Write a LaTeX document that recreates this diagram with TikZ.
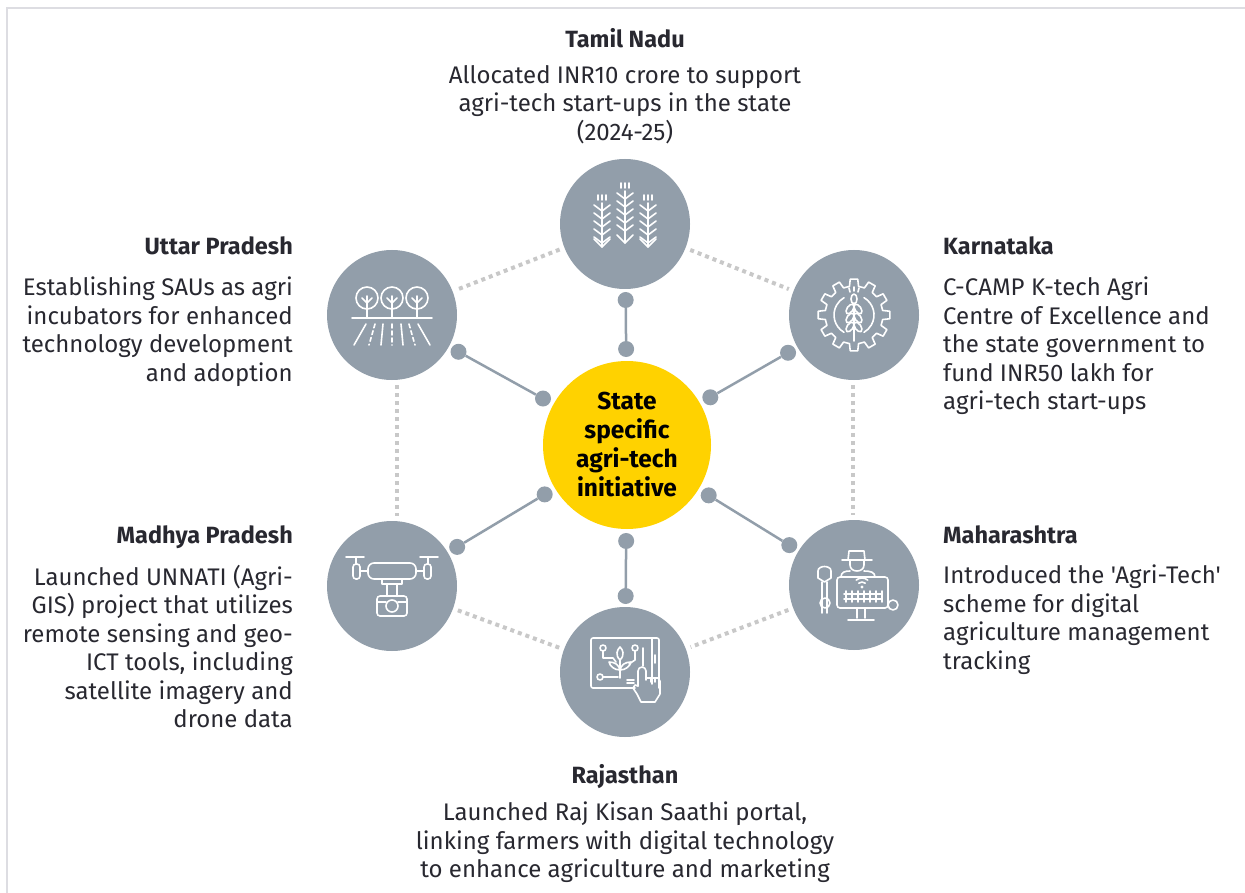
\documentclass[tikz,border=0pt]{standalone}
\usepackage{fontspec}
\newfontfamily\eyfont{Fira Sans}
\usetikzlibrary{calc}
\definecolor{stategray}{RGB}{146,158,170}
\definecolor{hubyellow}{RGB}{255,210,0}
\definecolor{ringgray}{RGB}{200,200,200}
\definecolor{framegray}{RGB}{221,221,226}
\definecolor{eytext}{RGB}{40,40,48}

\tikzset{
  statecircle/.style={circle, fill=stategray, minimum size=130pt, inner sep=0pt},
  hubcircle/.style={circle, fill=hubyellow, minimum size=168pt, inner sep=0pt, align=center,
    font={\eyfont\bfseries\fontsize{24.5}{29}\selectfont}, text=black},
  statetitle/.style={font={\eyfont\bfseries\fontsize{23.5}{28.5}\selectfont}, text=eytext, inner sep=0pt},
  statetext/.style={font={\eyfont\fontsize{24}{28.5}\selectfont}, text=eytext, inner sep=0pt},
  linkdot/.style={circle, fill=stategray, minimum size=16pt, inner sep=0pt},
  spoke/.style={stategray, line width=2.5pt},
  ring/.style={ringgray, line width=4pt, dash pattern=on 4pt off 4pt, shorten >=5pt, shorten <=5pt},
  icon/.style={white, line width=1.6pt, line cap=round, line join=round}
}

\begin{document}
\begin{tikzpicture}[x=1pt, y=1pt, yscale=-1]
    \useasboundingbox (0,0) rectangle (1245,893);
    \draw[framegray, line width=2pt] (1260,8) -- (7,8) -- (7,910);

    % hub and states
    \node[hubcircle] (hub) at (627,445) {State\\specific\\agri-tech\\initiative};
    \node[statecircle] (tn) at (625,224) {};
    \node[statecircle] (up) at (392,315) {};
    \node[statecircle] (ka) at (854,315) {};
    \node[statecircle] (mp) at (392,586) {};
    \node[statecircle] (mh) at (854,585) {};
    \node[statecircle] (rj) at (625,672) {};

    % dotted ring
    \draw[ring] (tn) -- (up);
    \draw[ring] (tn) -- (ka);
    \draw[ring] ([xshift=5pt]up.south) -- ([xshift=5pt]mp.north);
    \draw[ring] ([xshift=-1pt]ka.south) -- ([xshift=-1pt]mh.north);
    \draw[ring] (mp) -- (rj);
    \draw[ring] (mh) -- (rj);

    % spokes
    \foreach \s in {tn,up,ka,mp,mh,rj}{
        \node[linkdot] (\s-in) at ($(hub)!96pt!(\s)$) {};
        \node[linkdot] (\s-out) at ($(\s)!76pt!(hub)$) {};
        \draw[spoke] (\s-in) -- (\s-out);
    }

    % Tamil Nadu icon: wheat
    \begin{scope}[shift={(tn)}, icon]
        \foreach \x/\t/\b in {-23/-29/23, 0/-41/19, 23/-29/23}{
            \draw (\x,\t+8) -- (\x,\b);
            \foreach \k in {0,...,4}
                \draw (\x-8,\t+10+\k*8) -- (\x,\t+16+\k*8) -- (\x+8,\t+10+\k*8);
            \draw (\x-8,\b-8) -- (\x,\b) -- (\x+8,\b-8);
            \draw (\x-4,\t) -- (\x-4,\t+5) (\x,\t) -- (\x,\t+5) (\x+4,\t) -- (\x+4,\t+5);
        }
    \end{scope}

    % Uttar Pradesh icon: trees and field
    \begin{scope}[shift={(up)}, icon]
        \foreach \x in {-25,0,25}{
            \draw (\x,-17) circle[radius=11];
            \draw (\x,-19) -- (\x,3) (\x-5,-17) -- (\x,-12) -- (\x+5,-17);
        }
        \draw (-40,3) -- (40,3);
        \foreach \t/\b in {-26/-38,-9/-11,9/11,26/38} \draw (\t,9) -- (\b,30);
        \foreach \t/\b in {-17/-23,0/0,17/23} \draw[dash pattern=on 4pt off 3pt] (\t,9) -- (\b,30);
    \end{scope}

    % Karnataka icon: gear with wheat
    \begin{scope}[shift={(ka)}, icon]
        \draw (-9:29) \foreach \a in {0,30,...,330}{ -- (\a-9:29) -- (\a-6:36) -- (\a+6:36) -- (\a+9:29) } -- cycle;
        \draw (120:20) arc[start angle=120, end angle=240, radius=20];
        \draw (-60:20) arc[start angle=-60, end angle=60, radius=20];
        \draw (0,-12) -- (0,26);
        \draw (0,-16) ellipse[x radius=3, y radius=5];
        \foreach \y in {-6,3,12}{
            \draw[rotate around={35:(-4,\y)}] (-4,\y) ellipse[x radius=3, y radius=5.5];
            \draw[rotate around={-35:(4,\y)}] (4,\y) ellipse[x radius=3, y radius=5.5];
        }
        \draw (0,-28) -- (0,-24) (-5,-27) -- (-4,-23) (5,-27) -- (4,-23);
    \end{scope}

    % Madhya Pradesh icon: drone
    \begin{scope}[shift={(mp)}, icon]
        \draw[rounded corners=6pt] (-24,-23) rectangle (24,-7);
        \draw[rounded corners=3pt] (-39,-22) rectangle (-32,-7) (32,-22) rectangle (39,-7);
        \draw (-32,-15) -- (-24,-15) (24,-15) -- (32,-15);
        \draw (-46,-29) -- (-28,-29) (-36,-29) -- (-36,-22) (28,-29) -- (46,-29) (36,-29) -- (36,-22);
        \draw (-10,-7) rectangle (10,-2);
        \draw (-5,-2) rectangle (5,10);
        \draw[rounded corners=3pt] (-15,10) rectangle (15,30);
        \draw (0,20) circle[radius=6];
        \draw (-15,16) -- (-6,16) (6,16) -- (15,16);
    \end{scope}

    % Maharashtra icon: farmer with monitor
    \begin{scope}[shift={(mh)}, icon]
        \draw (-12,-25) -- (18,-25);
        \draw (-6,-25) -- (-5,-34) -- (10,-34) -- (11,-25);
        \draw (-4,-25) -- (-4,-20) .. controls (-4,-12) and (10,-12) .. (10,-20) -- (10,-25);
        \draw (-13,-8) .. controls (-13,-13) and (-9,-14) .. (-4,-14);
        \draw (10,-14) .. controls (16,-14) and (21,-13) .. (21,-8);
        \draw[rounded corners=3pt] (-17,-8) rectangle (34,23);
        \draw (-10,9) -- (28,9) (-10,14) -- (28,14);
        \foreach \x in {-8,-2,...,28} \draw (\x,6) -- (\x,17);
        \fill (8,2) circle[radius=1.6];
        \foreach \r in {5,9}
            \draw (8,2) ++(230:\r) arc[start angle=230, end angle=310, radius=\r];
        \draw (3,23) -- (3,33) (11,23) -- (11,33) (-6,35) -- (20,35);
        \draw (-32,-3) -- (-32,28) (-27,-3) -- (-27,28);
        \draw (-29.5,-3) -- (-36,-7) -- (-36,-14) .. controls (-36,-20) and (-23,-20) .. (-23,-14) -- (-23,-7) -- cycle;
        \draw (-29,18) circle[radius=5] (39,20) circle[radius=5];
    \end{scope}

    % Rajasthan icon: tablet with plant
    \begin{scope}[shift={(rj)}, icon]
        \draw[rounded corners=2pt] (10,16) -- (-34,16) -- (-34,-34) -- (34,-34) -- (34,16);
        \draw (27,-34) -- (27,12);
        \draw (18,-24) -- (18,-6) (30,-17) -- (30,-9);
        \draw (-5,6) -- (-5,-12);
        \draw (-5,-12) .. controls (-10,-17) and (-8,-22) .. (-5,-25) .. controls (-2,-22) and (0,-17) .. (-5,-12);
        \draw (-5,-2) .. controls (-11,-2) and (-15,-6) .. (-16,-10) .. controls (-10,-10) and (-6,-7) .. (-5,-2);
        \draw (-5,-2) .. controls (1,-2) and (5,-6) .. (6,-10) .. controls (0,-10) and (-4,-7) .. (-5,-2);
        \draw (-22,-21) -- (-22,-14) -- (-12,-14) -- (-9,-10) (-22,-24) circle[radius=3];
        \draw (10,-21) -- (10,-12) -- (4,-8) (10,-24) circle[radius=3];
        \draw (-22,5) -- (-7,5) (-25,5) circle[radius=3];
        \draw (2,8) -- (9,8) (2,11) -- (9,11);
        \draw (13,14) -- (13,-1) arc[start angle=180, end angle=360, radius=4] -- (21,8);
        \draw (21,6) -- (33,6) -- (35,9) -- (35,22) -- (30,30) -- (16,30) -- (12,22) -- (8,16) -- (10,13) -- (13,14);
        \draw (26,6) -- (26,10) (30,6) -- (30,10);
    \end{scope}

    % Tamil Nadu
    \node[statetitle, anchor=base] (tntitle) at (625,48) {Tamil Nadu};
    \node[statetext, anchor=north, align=center] (tntext) at (625,65)
        {Allocated INR10 crore to support\\agri-tech start-ups in the state\\(2024-25)};

    % Uttar Pradesh
    \node[statetitle, anchor=base east] (uptitle) at (293,255) {Uttar Pradesh};
    \node[statetext, anchor=north east, align=right] (uptext) at (293,277)
        {Establishing SAUs as agri\\incubators for enhanced\\technology development\\and adoption};

    % Karnataka
    \node[statetitle, anchor=base west] (katitle) at (943,255) {Karnataka};
    \node[statetext, anchor=north west, align=left] (katext) at (943,277)
        {C-CAMP K-tech Agri\\Centre of Excellence and\\the state government to\\fund INR50 lakh for\\agri-tech start-ups};

    % Madhya Pradesh
    \node[statetitle, anchor=base east] (mptitle) at (293,543) {Madhya Pradesh};
    \node[statetext, anchor=north east, align=right] (mptext) at (293,565)
        {Launched UNNATI (Agri-\\GIS) project that utilizes\\remote sensing and geo-\\ICT tools, including\\satellite imagery and\\drone data};

    % Maharashtra
    \node[statetitle, anchor=base west] (mhtitle) at (943,543) {Maharashtra};
    \node[statetext, anchor=north west, align=left] (mhtext) at (943,565)
        {Introduced the 'Agri-Tech'\\scheme for digital\\agriculture management\\tracking};

    % Rajasthan
    \node[statetitle, anchor=base] (rjtitle) at (625,783) {Rajasthan};
    \node[statetext, anchor=north, align=center] (rjtext) at (625,802)
        {Launched Raj Kisan Saathi portal,\\linking farmers with digital technology\\to enhance agriculture and marketing};
\end{tikzpicture}
\end{document}
